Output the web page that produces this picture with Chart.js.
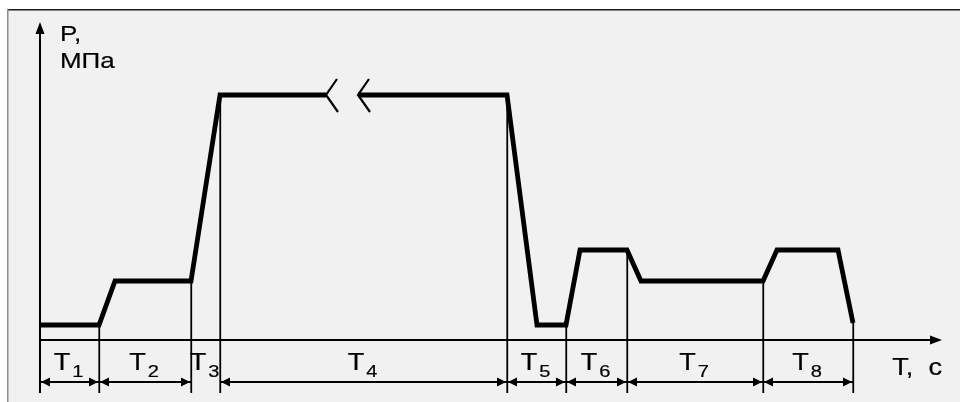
<!DOCTYPE html>
<html>
<head>
<meta charset="utf-8">
<script src="https://cdn.jsdelivr.net/npm/chart.js@4"></script>
<style>
  html, body { margin: 0; padding: 0; background: #fff; }
  canvas { display: block; }
</style>
</head>
<body>
<canvas id="pressureChart" width="960" height="402"></canvas>
<script>
// time points of the pressure curve (arbitrary time units) and pressure, MPa
const timePts = [0, 5.9, 7.5, 15.1, 18.0, 28.6, 30.2, 31.8, 46.7, 49.7, 52.6, 54.0, 58.7, 60.1, 72.3, 73.7, 79.8, 81.3];
const pressure = [1.5, 1.5, 5.9, 5.9, 24.5, 24.5, null, 24.5, 24.5, 1.5, 1.5, 9.0, 9.0, 5.9, 5.9, 9.0, 9.0, 1.7];
// phase boundaries and phase names
const phaseBounds = [0, 5.9, 15.1, 18.0, 46.7, 52.6, 58.7, 72.3, 81.3];
const phaseLabels = ['1', '2', '3', '4', '5', '6', '7', '8'];
const yTitle = ['P,', 'МПа'];
const xTitle = 'T,  c';

const dimLevel = -4.2;   // dimension arrows row
const labelLevel = -3.0; // baseline of T labels

function pressureAt(t) {
    const i = timePts.indexOf(t);
    return i >= 0 ? pressure[i] : null;
}

function stretchedText(ctx, txt, x, y, size, align) {
    ctx.save();
    ctx.font = size + 'px "Liberation Sans", Arial, sans-serif';
    const w = ctx.measureText(txt).width * 1.18;
    let sx = x;
    if (align === 'center') sx = x - w / 2;
    if (align === 'right') sx = x - w;
    ctx.translate(sx, y);
    ctx.scale(1.18, 1);
    ctx.textAlign = 'left';
    ctx.textBaseline = 'alphabetic';
    ctx.lineWidth = 0.2;
    ctx.strokeStyle = '#000';
    ctx.fillText(txt, 0, 0);
    ctx.strokeText(txt, 0, 0);
    ctx.restore();
    return w;
}

function measureStretched(ctx, txt, size) {
    ctx.save();
    ctx.font = size + 'px "Liberation Sans", Arial, sans-serif';
    const w = ctx.measureText(txt).width * 1.18;
    ctx.restore();
    return w;
}

const diagramPlugin = {
    id: 'diagram',
    beforeDraw(chart) {
        const ctx = chart.ctx;
        ctx.save();
        ctx.fillStyle = '#ffffff';
        ctx.fillRect(0, 0, chart.width, chart.height);
        ctx.fillStyle = '#f1f1f1';
        ctx.fillRect(8, 9, chart.width - 8, chart.height - 9);
        ctx.fillStyle = '#1a1a1a';
        ctx.fillRect(8, 9, chart.width - 8, 1.5);
        ctx.fillStyle = '#8c8c8c';
        ctx.fillRect(7, 9, 1.5, chart.height - 9);
        ctx.restore();
    },
    afterDatasetsDraw(chart) {
        const ctx = chart.ctx;
        const xs = chart.scales.x, ys = chart.scales.y;
        const x0 = xs.getPixelForValue(0);
        const y0 = ys.getPixelForValue(0);
        const yBottom = ys.getPixelForValue(ys.min);
        const yTop = ys.getPixelForValue(ys.max);
        const xEnd = xs.getPixelForValue(xs.max);

        ctx.save();
        ctx.strokeStyle = '#000';
        ctx.fillStyle = '#000';
        ctx.lineCap = 'butt';

        // axes
        ctx.lineWidth = 2;
        ctx.beginPath();
        ctx.moveTo(x0, yBottom);
        ctx.lineTo(x0, yTop + 10);
        ctx.moveTo(x0, y0);
        ctx.lineTo(xEnd - 10, y0);
        ctx.stroke();
        ctx.beginPath();
        ctx.moveTo(x0, yTop);
        ctx.lineTo(x0 - 4.5, yTop + 12);
        ctx.lineTo(x0 + 4.5, yTop + 12);
        ctx.closePath();
        ctx.fill();
        ctx.beginPath();
        ctx.moveTo(xEnd, y0);
        ctx.lineTo(xEnd - 12, y0 - 4.5);
        ctx.lineTo(xEnd - 12, y0 + 4.5);
        ctx.closePath();
        ctx.fill();

        // phase boundary lines
        ctx.lineWidth = 1.8;
        phaseBounds.forEach((t, i) => {
            if (i === 0) return;
            const px = Math.round(xs.getPixelForValue(t)) + 0.25;
            ctx.beginPath();
            ctx.moveTo(px, ys.getPixelForValue(pressureAt(t)));
            ctx.lineTo(px, yBottom);
            ctx.stroke();
        });

        // dimension arrows
        const dy = ys.getPixelForValue(dimLevel);
        for (let i = 0; i < phaseBounds.length - 1; i++) {
            const a = xs.getPixelForValue(phaseBounds[i]);
            const b = xs.getPixelForValue(phaseBounds[i + 1]);
            if (b - a < 40) continue;
            ctx.beginPath();
            ctx.moveTo(a, dy);
            ctx.lineTo(b, dy);
            ctx.stroke();
            ctx.beginPath();
            ctx.moveTo(a + 1, dy);
            ctx.lineTo(a + 10, dy - 4.5);
            ctx.lineTo(a + 10, dy + 4.5);
            ctx.closePath();
            ctx.fill();
            ctx.beginPath();
            ctx.moveTo(b - 1, dy);
            ctx.lineTo(b - 10, dy - 4.5);
            ctx.lineTo(b - 10, dy + 4.5);
            ctx.closePath();
            ctx.fill();
        }

        // T labels with subscripts
        const ly = ys.getPixelForValue(labelLevel);
        for (let i = 0; i < phaseLabels.length; i++) {
            const a = xs.getPixelForValue(phaseBounds[i]);
            const b = xs.getPixelForValue(phaseBounds[i + 1]);
            const wT = measureStretched(ctx, 'T', 23);
            const wS = measureStretched(ctx, phaseLabels[i], 17);
            const start = (a + b) / 2 - (wT + wS) / 2 - 2;
            stretchedText(ctx, 'T', start, ly, 23, 'left');
            stretchedText(ctx, phaseLabels[i], start + wT + 2, ly + 7, 17, 'left');
        }

        // axis titles
        stretchedText(ctx, yTitle[0], x0 + 20, yTop + 19, 22, 'left');
        stretchedText(ctx, yTitle[1], x0 + 20, yTop + 46, 22, 'left');
        stretchedText(ctx, xTitle, xEnd, ly + 5, 23, 'right');

        // break marks on the long hold
        const gap = pressure.indexOf(null);
        const p1 = { x: xs.getPixelForValue(timePts[gap - 1]), y: ys.getPixelForValue(pressure[gap - 1]) };
        const p2 = { x: xs.getPixelForValue(timePts[gap + 1]), y: ys.getPixelForValue(pressure[gap + 1]) };
        ctx.lineWidth = 2.2;
        [p1, p2].forEach(p => {
            ctx.beginPath();
            ctx.moveTo(p.x + 11, p.y - 16);
            ctx.lineTo(p.x, p.y);
            ctx.lineTo(p.x + 12, p.y + 17);
            ctx.stroke();
        });
        ctx.restore();
    }
};

const ctx = document.getElementById('pressureChart').getContext('2d');
const pressureChart = new Chart(ctx, {
    type: 'scatter',
    data: {
        datasets: [{
            label: 'P',
            data: timePts.map((t, i) => ({ x: t, y: pressure[i] })),
            showLine: true,
            spanGaps: false,
            borderColor: '#000',
            borderWidth: 4.8,
            borderJoinStyle: 'miter',
            borderCapStyle: 'butt',
            pointRadius: 0,
            pointHoverRadius: 0,
            tension: 0
        }]
    },
    options: {
        responsive: false,
        animation: false,
        layout: {
            padding: { left: 40, right: 18, top: 22, bottom: 9 }
        },
        plugins: {
            legend: { display: false },
            tooltip: { enabled: false }
        },
        scales: {
            x: { type: 'linear', min: 0, max: 90.2, display: false },
            y: { type: 'linear', min: -5.3, max: 31.8, display: false }
        }
    },
    plugins: [diagramPlugin]
});
</script>
</body>
</html>
